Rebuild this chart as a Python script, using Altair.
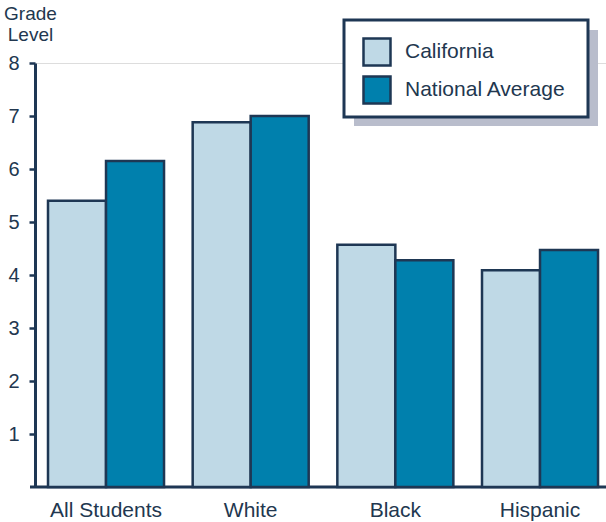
import altair as alt
import pandas as pd

# Reading grade level by student group
groups = ["All Students", "White", "Black", "Hispanic"]
california = [5.4, 6.88, 4.57, 4.09]
national = [6.15, 7.0, 4.28, 4.47]
series = ["California", "National Average"]

rows = []
for g, ca, na in zip(groups, california, national):
    rows.append({"group": g, "series": series[0], "grade": ca})
    rows.append({"group": g, "series": series[1], "grade": na})
df = pd.DataFrame(rows)

NAVY = "#1e3754"
TEXT = "#22374f"
LIGHT = "#bfd9e6"
DARK = "#0080ad"
FONT = "Liberation Sans"

W, H = 571, 424

bars = alt.Chart(df).mark_bar(stroke=NAVY, strokeWidth=2.5).encode(
    x=alt.X(
        "group:N",
        sort=groups,
        scale=alt.Scale(paddingInner=0.198, paddingOuter=0.0725, align=0.62),
        axis=alt.Axis(
            title=None, labelAngle=0, ticks=False, domain=False,
            labelFontSize=21, labelColor=TEXT, labelFont=FONT,
            labelPadding=12, labelBaseline="top",
        ),
    ),
    xOffset=alt.XOffset("series:N", sort=series,
                        scale=alt.Scale(paddingInner=0, paddingOuter=0)),
    y=alt.Y(
        "grade:Q",
        scale=alt.Scale(domain=[0, 8], nice=False, zero=True),
        axis=alt.Axis(
            values=[1, 2, 3, 4, 5, 6, 7, 8], grid=False,
            tickSize=6, tickWidth=2.5, tickColor=NAVY,
            domainColor=NAVY, domainWidth=3,
            labelFontSize=20, labelColor=TEXT, labelFont=FONT, labelPadding=10,
            title=["Grade", "Level"], titleAngle=0, titleAlign="center",
            titleBaseline="alphabetic", titleX=-5, titleY=-44,
            titleFontSize=19, titleFontWeight="normal", titleColor=TEXT,
            titleFont=FONT, titleLineHeight=21,
        ),
    ),
    color=alt.Color(
        "series:N",
        sort=series,
        scale=alt.Scale(domain=series, range=[LIGHT, DARK]),
        legend=alt.Legend(
            title=None, orient="none", legendX=327, legendY=-26,
            padding=0, symbolType="square", symbolSize=729,
            symbolStrokeColor=NAVY, symbolStrokeWidth=2.5, symbolOpacity=1,
            labelFontSize=21, labelColor=TEXT, labelFont=FONT,
            labelOffset=13, rowPadding=0, labelLimit=400,
        ),
    ),
)

# Bottom baseline, extending slightly left of the y axis
baseline = alt.Chart().mark_rule(color=NAVY, strokeWidth=3).encode(
    x=alt.value(-5), x2=alt.value(W), y=alt.value(H)
)

# Legend frame with its drop shadow
shadow = alt.Chart().mark_rect(color="#b9bdcc").encode(
    x=alt.value(319), x2=alt.value(563), y=alt.value(-33), y2=alt.value(63)
)
frame = alt.Chart().mark_rect(fill="white", stroke=NAVY, strokeWidth=3).encode(
    x=alt.value(309), x2=alt.value(553), y=alt.value(-43), y2=alt.value(54)
)

chart = alt.layer(shadow, frame, baseline, bars).properties(
    width=W,
    height=H,
    autosize=alt.AutoSizeParams(type="none"),
    padding={"left": 35, "top": 63, "right": 0, "bottom": 35},
).configure_view(stroke=None).configure(background="white")

chart.save("out.html", embed_options={"renderer": "svg", "actions": False})
